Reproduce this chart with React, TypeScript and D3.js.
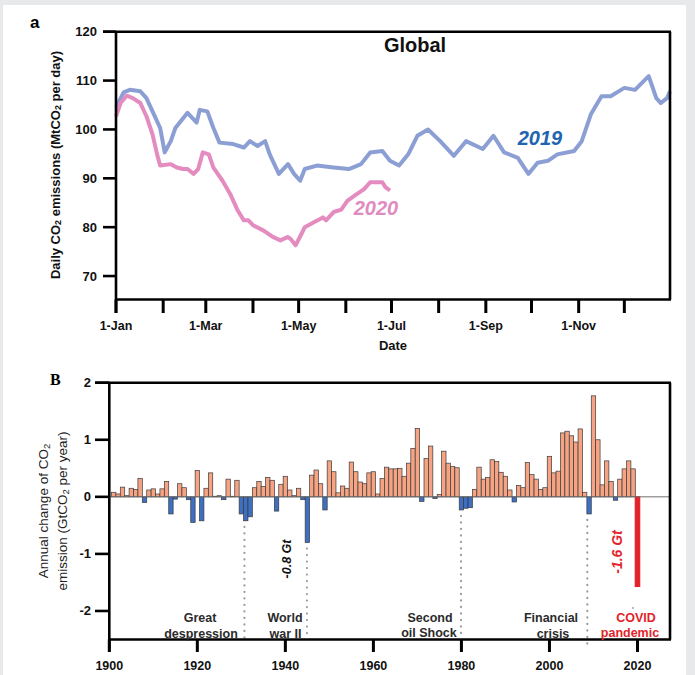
import React from "react";
import * as d3 from "d3";

// Panel a: daily global CO2 emissions (day of year -> MtCO2 per day)
const days2019 = [0, 5, 9, 16, 20, 24, 29, 32, 36, 39, 47, 53, 55, 60, 64, 68, 77, 84, 88, 93, 98, 101, 107, 113, 117, 121, 124, 132, 143, 153, 161, 167, 175, 180, 186, 192, 198, 205, 213, 222, 230, 241, 248, 255, 264, 271, 277, 284, 290, 301, 306, 312, 319, 325, 334, 341, 350, 355, 358, 362, 364];
const values2019 = [104.5, 107.6, 108.1, 107.8, 106.4, 103.7, 100.3, 95.3, 97.6, 100.3, 103.4, 101.4, 104, 103.7, 100.3, 97.3, 97, 96.3, 97.6, 96.6, 97.6, 94.9, 90.9, 92.9, 90.9, 89.5, 91.9, 92.6, 92.2, 91.9, 92.9, 95.3, 95.6, 93.6, 92.6, 94.9, 98.7, 100, 97.6, 94.6, 97.6, 96, 98.7, 95.3, 94.2, 90.9, 93.2, 93.6, 94.9, 95.6, 97.6, 103.1, 106.8, 106.8, 108.5, 108.1, 110.9, 106.4, 105.4, 106.4, 107.8];

const days2020 = [0, 3, 7, 11, 16, 20, 24, 27, 29, 36, 40, 44, 47, 51, 54, 57, 61, 64, 70, 75, 80, 84, 87, 90, 97, 103, 108, 113, 115, 118, 122, 124, 130, 136, 138, 143, 148, 152, 157, 163, 167, 172, 175, 177, 180];
const values2020 = [102.7, 105.4, 106.9, 106.4, 105.4, 102.7, 99, 94.9, 92.6, 92.9, 92.2, 91.9, 91.9, 90.9, 91.9, 95.3, 94.9, 92.2, 89.5, 86.8, 83.4, 81.4, 81.4, 80.4, 79.3, 78, 77.3, 78, 77.5, 76.3, 78.7, 80, 81, 82, 81.4, 83.1, 83.6, 85.4, 86.5, 87.8, 89.2, 89.2, 89.2, 88.2, 87.5];

const monthLabels = ["1-Jan", "", "1-Mar", "", "1-May", "", "1-Jul", "", "1-Sep", "", "1-Nov", ""];
const topYTicks = [70, 80, 90, 100, 110, 120];

// Panel B: annual change of CO2 emission (GtCO2 per year), 1901..2020
const firstYear = 1901;
const changes = [
  0.08, 0.05, 0.17, 0.02, 0.15, 0.13, 0.32, -0.1, 0.12, 0.14,
  0.05, 0.14, 0.27, -0.3, -0.04, 0.23, 0.16, -0.05, -0.45, 0.46,
  -0.42, 0.15, 0.42, 0.01, 0.02, -0.05, 0.31, 0.01, 0.29, -0.3,
  -0.42, -0.35, 0.16, 0.27, 0.18, 0.34, 0.29, -0.25, 0.22, 0.36,
  0.12, 0.02, 0.15, -0.05, -0.8, 0.38, 0.47, 0.23, -0.23, 0.63,
  0.44, 0.07, 0.19, 0.15, 0.61, 0.44, 0.26, 0.23, 0.42, 0.44,
  0.05, 0.32, 0.52, 0.49, 0.49, 0.5, 0.36, 0.59, 0.85, 1.2,
  -0.08, 0.67, 0.89, -0.03, 0.04, 0.8, 0.59, 0.53, 0.51, -0.23,
  -0.2, -0.19, 0.13, 0.52, 0.31, 0.34, 0.65, 0.62, 0.43, 0.36,
  0.12, -0.09, 0.2, 0.16, 0.6, 0.39, 0.31, 0.13, 0.16, 0.71,
  0.42, 0.45, 1.12, 1.15, 1.07, 0.96, 1.19, 0.08, -0.3, 1.77,
  1.0, 0.21, 0.63, 0.27, -0.06, 0.31, 0.49, 0.63, 0.49, -1.57,
];
const bottomYTicks = [-2, -1, 0, 1, 2];
const bottomXTicks = [1900, 1920, 1940, 1960, 1980, 2000, 2020];

// crisis markers (year, value at the dip)
const eventYears = [1930.7, 1944.9, 1979.9, 2008.6];
const eventDips = [-0.42, -0.8, -0.23, -0.3];

const FONT = "'Liberation Sans', Arial, Helvetica, sans-serif";
const ORANGE = "#f5a382";
const BLUE = "#3d6fc2";
const RED = "#e3232a";

const App = () => {
  const width = 695;
  const height = 675;

  // ---- panel a scales
  const base = new Date(2019, 0, 1);
  const xA = d3.scaleTime().domain([base, new Date(2019, 11, 31)]).range([116, 670]);
  const yA = d3.scaleLinear().domain([65.2, 120]).range([299.5, 31.7]);
  const toDate = (d: number) => d3.timeDay.offset(base, d);
  const lineA = d3
    .line<number>()
    .x((d) => xA(toDate(d)))
    .curve(d3.curveLinear);
  const path2019 = lineA.y((_, i) => yA(values2019[i]))(days2019);
  const path2020 = lineA.y((_, i) => yA(values2020[i]))(days2020);
  const months = d3.timeMonth.range(base, new Date(2020, 0, 1));

  // ---- panel B scales
  const xB = d3.scaleLinear().domain([1900, 2027.5]).range([109.3, 670.5]);
  const yB = d3.scaleLinear().domain([-2.5, 2]).range([639.5, 382.7]);
  const y0 = yB(0);

  const tickFont = { fontFamily: FONT, fontWeight: 700, fill: "#111" };
  const noteFont = { fontFamily: FONT, fontWeight: 700, fontSize: 12.5, fill: "#2b2b2b", textAnchor: "middle" as const };

  return (
    <div style={{ position: "absolute", left: 0, top: 0 }}>
      <svg width={width} height={height}>
        <rect x={0} y={0} width={width} height={height} fill="#e8e9eb" />
        <rect x={3} y={5} width={683} height={670} fill="#fff" />

        {/* ===== panel a ===== */}
        <text x={30} y={28} fontFamily={FONT} fontWeight={700} fontSize={17}>a</text>

        <path d={path2019 || ""} fill="none" stroke="#8c9fd4" strokeWidth={4} strokeLinejoin="round" />
        <path d={path2020 || ""} fill="none" stroke="#e48bc0" strokeWidth={4} strokeLinejoin="round" />

        {/* frame */}
        <g stroke="#000" strokeWidth={2.6} fill="none">
          <line x1={103} x2={671} y1={yA(120)} y2={yA(120)} />
          <line x1={670} x2={670} y1={yA(120)} y2={299.5} />
          <line x1={116} x2={671} y1={299.5} y2={299.5} />
          <line x1={116} x2={116} y1={yA(120)} y2={313} />
        </g>
        {topYTicks.map((t) => (
          <g key={t}>
            <line x1={103} x2={116} y1={yA(t)} y2={yA(t)} stroke="#000" strokeWidth={2.6} />
            <text x={97} y={yA(t)} textAnchor="end" dominantBaseline="central" fontSize={13} {...tickFont}>{t}</text>
          </g>
        ))}
        {months.map((m, i) => (
          <g key={i}>
            <line x1={xA(m)} x2={xA(m)} y1={299.5} y2={313} stroke="#000" strokeWidth={3} />
            {monthLabels[i] && (
              <text x={xA(m)} y={329.5} textAnchor="middle" fontSize={12.5} {...tickFont}>{monthLabels[i]}</text>
            )}
          </g>
        ))}
        <text x={393} y={350} textAnchor="middle" fontSize={13} {...tickFont}>Date</text>
        <text
          transform="translate(55,165) rotate(-90)"
          textAnchor="middle"
          dominantBaseline="central"
          fontSize={13}
          {...tickFont}
        >
          Daily CO<tspan fontSize={9} dy={3}>2</tspan><tspan dy={-3}> emissions (MtCO</tspan><tspan fontSize={9} dy={3}>2</tspan><tspan dy={-3}> per day)</tspan>
        </text>

        <text x={415} y={52} textAnchor="middle" fontFamily={FONT} fontWeight={700} fontSize={20} fill="#111">Global</text>
        <text x={540} y={145} textAnchor="middle" fontFamily={FONT} fontWeight={700} fontStyle="italic" fontSize={20} fill="#2064b0">2019</text>
        <text x={376} y={215} textAnchor="middle" fontFamily={FONT} fontWeight={700} fontStyle="italic" fontSize={20} fill="#e08bbf">2020</text>

        {/* ===== panel B ===== */}
        <text x={50} y={385} fontFamily="'Liberation Serif', 'DejaVu Serif', serif" fontWeight={700} fontSize={16}>B</text>

        {changes.map((v, i) => {
          const yr = firstYear + i;
          const isCovid = yr === 2020;
          const fill = isCovid ? RED : v >= 0 ? ORANGE : BLUE;
          return (
            <rect
              key={yr}
              x={xB(yr - 0.5)}
              width={xB(yr + 0.5) - xB(yr - 0.5)}
              y={Math.min(yB(v), y0)}
              height={Math.abs(yB(v) - y0)}
              fill={fill}
              stroke={isCovid ? RED : "#3a3a3a"}
              strokeWidth={isCovid ? 1.2 : 0.7}
            />
          );
        })}
        <line x1={109} x2={670} y1={y0} y2={y0} stroke="#6f6f6f" strokeWidth={1} />

        {/* dotted crisis markers */}
        {eventYears.map((yr, i) => (
          <line
            key={yr}
            x1={xB(yr)}
            x2={xB(yr)}
            y1={yB(eventDips[i]) + 6}
            y2={i === 3 ? 645 : 639}
            stroke="#9b9b9b"
            strokeWidth={2.2}
            strokeLinecap="round"
            strokeDasharray="0.1 6.4"
          />
        ))}
        <circle cx={633} cy={608} r={0.9} fill="#999" />

        {/* frame */}
        <g stroke="#000" strokeWidth={2.6} fill="none">
          <line x1={95} x2={671} y1={yB(2)} y2={yB(2)} />
          <line x1={670} x2={670} y1={yB(2)} y2={639.5} />
          <line x1={109.3} x2={671} y1={639.5} y2={639.5} />
          <line x1={109.3} x2={109.3} y1={yB(2)} y2={652} />
        </g>
        {bottomYTicks.map((t) => (
          <g key={t}>
            <line x1={95} x2={109.3} y1={yB(t)} y2={yB(t)} stroke="#000" strokeWidth={2.6} />
            <text x={91} y={yB(t)} textAnchor="end" dominantBaseline="central" fontSize={13} {...tickFont}>{t}</text>
          </g>
        ))}
        {bottomXTicks.map((t) => (
          <g key={t}>
            <line x1={xB(t)} x2={xB(t)} y1={639.5} y2={652} stroke="#000" strokeWidth={3} />
            <text x={xB(t)} y={669.5} textAnchor="middle" fontSize={12.5} {...tickFont}>{t}</text>
          </g>
        ))}

        <g transform="translate(0,511) rotate(-90)" fontFamily={FONT} fontSize={13.5} fill="#222" textAnchor="middle">
          <text x={0} y={43} dominantBaseline="central">
            Annual change of CO<tspan fontSize={9.5} dy={3}>2</tspan>
          </text>
          <text x={0} y={62} dominantBaseline="central">
            emission (GtCO<tspan fontSize={9.5} dy={3}>2</tspan><tspan dy={-3}> per year)</tspan>
          </text>
        </g>

        {/* annotations */}
        <text x={200} y={621.5} {...noteFont}>Great</text>
        <text x={201} y={637.5} {...noteFont}>despression</text>
        <text x={285} y={621.5} {...noteFont}>World</text>
        <text x={285.5} y={637.5} {...noteFont}>war II</text>
        <text x={430} y={622} {...noteFont}>Second</text>
        <text x={429} y={637} {...noteFont}>oil Shock</text>
        <text x={551} y={622} {...noteFont}>Financial</text>
        <text x={553} y={638} {...noteFont}>crisis</text>
        <text x={636} y={622} {...noteFont} fill={RED}>COVID</text>
        <text x={630} y={637} {...noteFont} fill={RED}>pandemic</text>

        <text
          transform="translate(287,559) rotate(-90)"
          textAnchor="middle"
          dominantBaseline="central"
          fontFamily={FONT}
          fontWeight={700}
          fontStyle="italic"
          fontSize={12.5}
          fill="#111"
        >
          -0.8 Gt
        </text>
        <text
          transform="translate(617,552) rotate(-90)"
          textAnchor="middle"
          dominantBaseline="central"
          fontFamily={FONT}
          fontWeight={700}
          fontStyle="italic"
          fontSize={14}
          fill={RED}
        >
          -1.6 Gt
        </text>
      </svg>
    </div>
  );
};

export default App;
